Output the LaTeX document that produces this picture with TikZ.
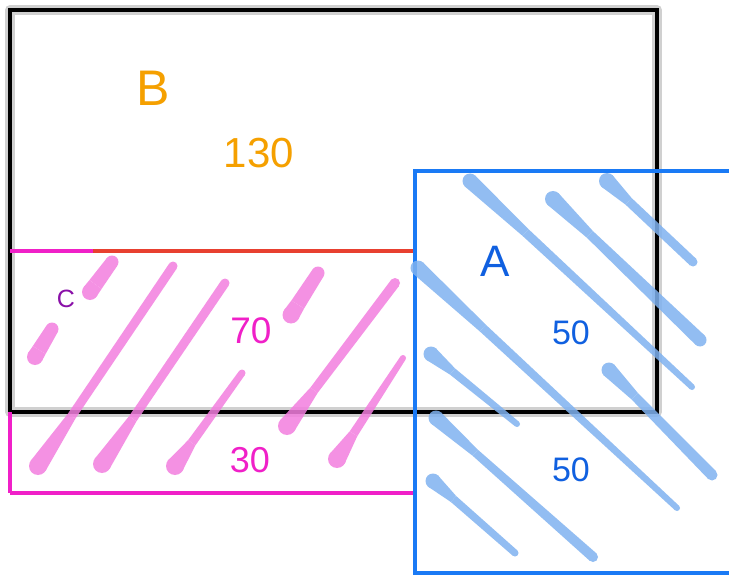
\documentclass[tikz,border=0pt]{standalone}
\usepackage{fontspec}
\setmainfont{Liberation Sans}
\usetikzlibrary{calc}
\definecolor{borange}{HTML}{F5A000}
\definecolor{cmag}{HTML}{F020C8}
\definecolor{cpurple}{HTML}{8A10A8}
\definecolor{ablue}{HTML}{1060E0}
\definecolor{aline}{HTML}{1A7AF5}
\definecolor{redline}{HTML}{E84030}
\definecolor{pinkbrush}{HTML}{F37EDF}
\definecolor{bluebrush}{HTML}{7FB2F0}
\definecolor{shadowgray}{HTML}{D0D0D0}
\newcommand\brush[6]{%
\begin{scope}[transparency group, opacity=0.85]
\coordinate (bs) at #2;
\coordinate (be) at #3;
\coordinate (bm) at ($(bs)!0.25!(be)$);
\fill[#1] (bs) circle[radius={#4*0.5pt}] (be) circle[radius={#6*0.5pt}];
\fill[#1] ($(bs)!#4*0.5pt!90:(bm)$) -- ($(bm)!#5*0.5pt!-90:(bs)$) -- ($(bm)!#5*0.5pt!90:(bs)$) -- ($(bs)!#4*0.5pt!-90:(bm)$) -- cycle;
\fill[#1] ($(bm)!#5*0.5pt!90:(be)$) -- ($(be)!#6*0.5pt!-90:(bm)$) -- ($(be)!#6*0.5pt!90:(bm)$) -- ($(bm)!#5*0.5pt!-90:(be)$) -- cycle;
\end{scope}}
\tikzset{
  lbl/.style={inner sep=0pt},
  setline/.style={line width=3.2pt},
}
\begin{document}
\begin{tikzpicture}[x=1pt,y=-1pt]
\useasboundingbox (0,0) rectangle (729,575);
\fill[white] (0,0) rectangle (729,575);
% B rectangle
\draw[shadowgray, line width=10pt, line join=round] (10,10) rectangle (657,412);
\draw[black, line width=4pt] (10,10) rectangle (657,412);
% C boundary
\draw[setline, cmag] (10,251) -- (93,251);
\draw[setline, redline] (93,251) -- (415,251);
\draw[setline, cmag] (10,412) -- (10,493);
\draw[setline, cmag] (10,493) -- (415,493);
% A boundary (three sides, the right one lies beyond the picture)
\fill[aline] (413.4,169.4) rectangle (729,172.6);
\fill[aline] (413.4,169.4) rectangle (416.6,574.6);
\fill[aline] (413.4,571.4) rectangle (729,574.6);
% pink hatch
\brush{pinkbrush}{(90,292)}{(112,262)}{16}{15}{13}
\brush{pinkbrush}{(35,357)}{(52,329)}{16}{15}{13}
\brush{pinkbrush}{(38,466)}{(173,266)}{18}{9}{9}
\brush{pinkbrush}{(102,464)}{(225,283)}{18}{9}{9}
\brush{pinkbrush}{(175,466)}{(242,373)}{18}{9}{7}
\brush{pinkbrush}{(291,315)}{(318,273)}{17}{15}{13}
\brush{pinkbrush}{(287,426)}{(395,283)}{18}{9}{10}
\brush{pinkbrush}{(337,459)}{(403,358)}{18}{9}{6}
% blue hatch
\brush{bluebrush}{(470,181)}{(692,387)}{15}{9}{6}
\brush{bluebrush}{(553,199)}{(700,340)}{16}{9}{13}
\brush{bluebrush}{(607,181)}{(693,262)}{16}{9}{9}
\brush{bluebrush}{(418,268)}{(677,508)}{15}{9}{6}
\brush{bluebrush}{(431,354)}{(517,424)}{15}{8}{6}
\brush{bluebrush}{(609,370)}{(712,475)}{15}{9}{11}
\brush{bluebrush}{(436,418)}{(593,557)}{15}{8}{10}
\brush{bluebrush}{(433,481)}{(515,553)}{15}{8}{7}
% labels
\node[lbl, text=borange, font=\fontsize{50}{50}\selectfont] (lblB) at (153,88) {B};
\node[lbl, text=borange, font=\fontsize{42}{42}\selectfont] (lbl130) at (259,153) {130};
\node[lbl, text=cpurple, font=\fontsize{25}{25}\selectfont] (lblC) at (66,299) {C};
\node[lbl, text=cmag, font=\fontsize{37}{37}\selectfont] (lbl70) at (251,331) {70};
\node[lbl, text=cmag, font=\fontsize{36}{36}\selectfont] (lbl30) at (250,460) {30};
\node[lbl, text=ablue, font=\fontsize{44}{44}\selectfont] (lblA) at (495,261) {A};
\node[lbl, text=ablue, font=\fontsize{34}{34}\selectfont] (lbl50a) at (571,333) {50};
\node[lbl, text=ablue, font=\fontsize{34}{34}\selectfont] (lbl50b) at (571,470) {50};
\end{tikzpicture}
\end{document}
